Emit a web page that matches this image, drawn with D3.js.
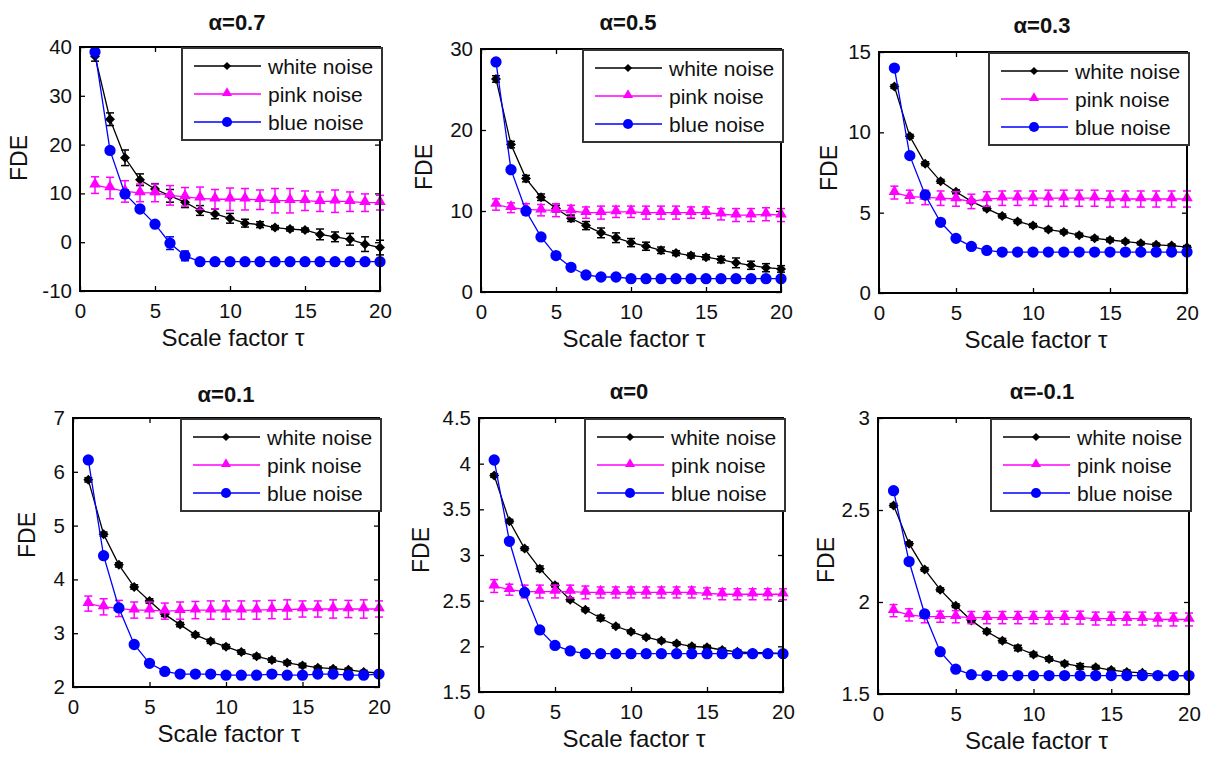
<!DOCTYPE html>
<html><head><meta charset="utf-8">
<script src="https://cdn.jsdelivr.net/npm/d3@7"></script>
<style>
body{margin:0;background:#fff}
svg{display:block;font-family:"Liberation Sans",Arial,sans-serif}
</style>
</head><body>
<svg id="chart" width="1212" height="758"></svg>
<script>
// ---------- data ----------
const tau = [1,2,3,4,5,6,7,8,9,10,11,12,13,14,15,16,17,18,19,20];
const seriesNames = ["white noise","pink noise","blue noise"];
const panelTitles = ["α=0.7","α=0.5","α=0.3","α=0.1","α=0","α=-0.1"];
const xTickValues = [0,5,10,15,20];
const yTickValues = [
  [-10,0,10,20,30,40],
  [0,10,20,30],
  [0,5,10,15],
  [2,3,4,5,6,7],
  [1.5,2,2.5,3,3.5,4,4.5],
  [1.5,2,2.5,3]
];
const xLabel = "Scale factor τ";
const yLabel = "FDE";

// alpha = 0.7
const white07 = [38.1,25.2,17.3,12.8,10.9,9.5,8.2,6.5,5.8,4.9,3.9,3.6,3.0,2.7,2.5,1.6,1.1,0.6,-0.4,-1.1];
const whiteErr07 = [1.0,1.3,1.6,1.2,1.1,1.3,1.1,1.0,1.0,1.0,0.8,0.6,0.4,0.4,0.4,1.1,1.0,1.2,1.5,1.5];
const pink07 = [11.7,11.1,10.4,10.1,10.1,9.6,9.3,9.0,8.8,8.8,8.8,8.7,8.5,8.5,8.5,8.3,8.4,8.3,8.1,8.1];
const pinkErr07 = [1.7,2.2,2.2,1.8,1.8,2.0,1.9,2.3,2.0,2.3,2.2,2.0,2.5,2.5,2.0,2.0,2.3,2.0,1.8,1.5];
const blue07 = [39.0,18.8,9.9,6.8,3.7,-0.2,-2.8,-4.0,-4.0,-4.0,-4.0,-4.0,-4.0,-4.0,-4.0,-4.0,-4.0,-4.0,-4.0,-4.0];
const blueErr07 = [0.6,0.6,0.8,0.4,0.4,1.3,1.0,0.2,0.2,0.2,0.2,0.2,0.2,0.2,0.2,0.2,0.2,0.2,0.2,0.2];

// alpha = 0.5
const white05 = [26.3,18.2,14.0,11.7,10.3,9.1,8.2,7.3,6.7,6.1,5.65,5.15,4.8,4.5,4.3,4.0,3.6,3.3,3.0,2.85];
const whiteErr05 = [0.4,0.4,0.4,0.4,0.4,0.4,0.5,0.6,0.6,0.5,0.5,0.4,0.3,0.3,0.3,0.4,0.6,0.5,0.5,0.4];
const pink05 = [10.8,10.4,10.2,10.1,10.1,10.0,9.8,9.8,9.9,9.9,9.8,9.8,9.8,9.8,9.8,9.6,9.5,9.5,9.6,9.5];
const pinkErr05 = [0.7,0.6,0.7,0.7,0.8,0.7,0.7,0.8,0.7,0.7,0.8,0.8,0.8,0.7,0.7,0.7,0.8,0.8,0.8,0.8];
const blue05 = [28.4,15.1,10.0,6.8,4.5,3.05,2.1,1.85,1.85,1.65,1.65,1.65,1.65,1.65,1.65,1.65,1.65,1.65,1.65,1.65];
const blueErr05 = [0.2,0.2,0.2,0.2,0.2,0.2,0.2,0.1,0.1,0.1,0.1,0.1,0.1,0.1,0.1,0.1,0.1,0.1,0.1,0.1];

// alpha = 0.3
const white03 = [12.85,9.75,8.05,6.95,6.3,5.7,5.25,4.8,4.45,4.2,3.95,3.8,3.6,3.4,3.3,3.2,3.1,3.0,2.95,2.85];
const whiteErr03 = [0.12,0.12,0.12,0.12,0.12,0.12,0.12,0.12,0.12,0.12,0.12,0.12,0.12,0.12,0.12,0.1,0.1,0.1,0.1,0.1];
const pink03 = [6.25,6.0,5.95,5.9,5.85,5.7,5.85,5.9,5.9,5.9,5.9,5.9,5.9,5.9,5.85,5.85,5.85,5.85,5.85,5.85];
const pinkErr03 = [0.4,0.4,0.45,0.45,0.45,0.45,0.45,0.45,0.45,0.45,0.5,0.5,0.5,0.5,0.5,0.5,0.5,0.5,0.5,0.5];
const blue03 = [14.0,8.55,6.1,4.4,3.4,2.9,2.65,2.55,2.55,2.55,2.55,2.55,2.55,2.55,2.55,2.55,2.55,2.55,2.55,2.55];
const blueErr03 = [0.05,0.05,0.05,0.05,0.05,0.05,0.05,0.05,0.05,0.05,0.05,0.05,0.05,0.05,0.05,0.05,0.05,0.05,0.05,0.05];

// alpha = 0.1
const white01 = [5.85,4.84,4.27,3.86,3.6,3.35,3.16,2.97,2.85,2.75,2.65,2.57,2.5,2.45,2.4,2.36,2.34,2.32,2.28,2.26];
const whiteErr01 = [0.04,0.04,0.04,0.04,0.04,0.04,0.04,0.04,0.04,0.04,0.04,0.04,0.04,0.04,0.04,0.03,0.03,0.03,0.03,0.03];
const pink01 = [3.55,3.49,3.46,3.43,3.43,3.41,3.42,3.43,3.43,3.43,3.43,3.43,3.44,3.44,3.45,3.45,3.45,3.45,3.45,3.45];
const pinkErr01 = [0.14,0.15,0.15,0.15,0.15,0.15,0.16,0.16,0.17,0.17,0.17,0.17,0.17,0.18,0.15,0.15,0.17,0.16,0.17,0.15];
const blue01 = [6.22,4.44,3.47,2.79,2.44,2.29,2.24,2.24,2.24,2.22,2.22,2.22,2.24,2.22,2.22,2.24,2.24,2.22,2.22,2.24];
const blueErr01 = [0.02,0.02,0.02,0.02,0.02,0.02,0.02,0.02,0.02,0.02,0.02,0.02,0.02,0.02,0.02,0.02,0.02,0.02,0.02,0.02];

// alpha = 0
const white00 = [3.87,3.37,3.07,2.85,2.67,2.51,2.40,2.31,2.22,2.16,2.10,2.06,2.03,2.0,1.99,1.96,1.94,1.93,1.93,1.92];
const whiteErr00 = [0.02,0.02,0.02,0.03,0.02,0.02,0.02,0.03,0.02,0.02,0.02,0.02,0.02,0.02,0.02,0.02,0.02,0.02,0.02,0.02];
const pink00 = [2.66,2.62,2.60,2.60,2.60,2.60,2.59,2.59,2.59,2.59,2.59,2.59,2.59,2.59,2.58,2.57,2.57,2.57,2.57,2.57];
const pinkErr00 = [0.07,0.06,0.07,0.07,0.07,0.07,0.07,0.06,0.06,0.06,0.06,0.06,0.06,0.06,0.06,0.06,0.06,0.06,0.06,0.06];
const blue00 = [4.04,3.15,2.59,2.18,2.01,1.95,1.92,1.92,1.92,1.92,1.92,1.92,1.92,1.92,1.92,1.92,1.92,1.92,1.92,1.92];
const blueErr00 = [0.01,0.01,0.01,0.01,0.01,0.01,0.01,0.01,0.01,0.01,0.01,0.01,0.01,0.01,0.01,0.01,0.01,0.01,0.01,0.01];

// alpha = -0.1
const whiteM01 = [2.525,2.317,2.177,2.067,1.98,1.90,1.84,1.79,1.75,1.715,1.69,1.665,1.65,1.645,1.63,1.62,1.615,1.605,1.60,1.60];
const whiteErrM01 = [0.01,0.01,0.01,0.01,0.01,0.01,0.012,0.012,0.015,0.012,0.012,0.012,0.015,0.01,0.01,0.01,0.01,0.01,0.01,0.01];
const pinkM01 = [1.953,1.93,1.92,1.92,1.92,1.915,1.915,1.915,1.915,1.915,1.915,1.915,1.915,1.91,1.91,1.91,1.91,1.905,1.905,1.905];
const pinkErrM01 = [0.033,0.033,0.033,0.03,0.033,0.033,0.033,0.033,0.033,0.033,0.035,0.035,0.035,0.035,0.035,0.035,0.035,0.035,0.035,0.035];
const blueM01 = [2.605,2.22,1.935,1.73,1.635,1.605,1.60,1.60,1.60,1.60,1.60,1.60,1.60,1.60,1.60,1.60,1.60,1.60,1.60,1.60];
const blueErrM01 = [0.005,0.005,0.005,0.005,0.005,0.005,0.005,0.005,0.005,0.005,0.005,0.005,0.005,0.005,0.005,0.005,0.005,0.005,0.005,0.005];

const whiteSets = [white07, white05, white03, white01, white00, whiteM01];
const whiteErrSets = [whiteErr07, whiteErr05, whiteErr03, whiteErr01, whiteErr00, whiteErrM01];
const pinkSets = [pink07, pink05, pink03, pink01, pink00, pinkM01];
const pinkErrSets = [pinkErr07, pinkErr05, pinkErr03, pinkErr01, pinkErr00, pinkErrM01];
const blueSets = [blue07, blue05, blue03, blue01, blue00, blueM01];
const blueErrSets = [blueErr07, blueErr05, blueErr03, blueErr01, blueErr00, blueErrM01];

// ---------- layout (pixels) ----------
const layout = [
  {left:80,  right:380,  top:47,  bottom:291, titleX:237,  titleY:30,  ylabX:19,  ylabY:158},
  {left:481, right:781,  top:49,  bottom:292, titleX:628,  titleY:30,  ylabX:424, ylabY:167},
  {left:879, right:1187, top:52,  bottom:293, titleX:1042, titleY:33,  ylabX:829, ylabY:168},
  {left:73,  right:379,  top:418, bottom:687, titleX:226,  titleY:402, ylabX:27,  ylabY:535},
  {left:479, right:783,  top:418, bottom:692, titleX:629,  titleY:399, ylabX:421, ylabY:550},
  {left:878, right:1189, top:418, bottom:694, titleX:1042, titleY:399, ylabX:826, ylabY:560}
];
const colors = ["#000000","#ff00ff","#0000ff"];
const symbols = [d3.symbolSquare, d3.symbolTriangle, d3.symbolCircle];
const symRot = [45, 0, 0];
const symSizes = [50, 58, 100];
const legendSymSizes = [34, 44, 80];

const svg = d3.select("#chart");
const fmt = d => String(d);

layout.forEach((L, i) => {
  const yVals = yTickValues[i];
  const x = d3.scaleLinear().domain([0,20]).range([L.left, L.right]);
  const y = d3.scaleLinear().domain([d3.min(yVals), d3.max(yVals)]).range([L.bottom, L.top]);
  const g = svg.append("g");

  // axes (inward ticks)
  const gx = g.append("g").attr("transform", `translate(0,${L.bottom})`)
    .call(d3.axisBottom(x).tickValues(xTickValues).tickFormat(fmt).tickSizeInner(-5).tickSizeOuter(0).tickPadding(12));
  const gy = g.append("g").attr("transform", `translate(${L.left},0)`)
    .call(d3.axisLeft(y).tickValues(yVals).tickFormat(fmt).tickSizeInner(-5).tickSizeOuter(0).tickPadding(8));
  const gt = g.append("g").attr("transform", `translate(0,${L.top})`)
    .call(d3.axisTop(x).tickValues(xTickValues).tickFormat("").tickSizeInner(-5).tickSizeOuter(0));
  const gr = g.append("g").attr("transform", `translate(${L.right},0)`)
    .call(d3.axisRight(y).tickValues(yVals).tickFormat("").tickSizeInner(-5).tickSizeOuter(0));
  [gx, gy, gt, gr].forEach(a => {
    a.select(".domain").remove();
    a.selectAll(".tick line").attr("stroke", "#000").attr("stroke-width", 1.3);
    a.selectAll(".tick text").attr("font-size", 20.5).attr("fill", "#111")
      .attr("font-family", '"Liberation Sans",Arial,sans-serif');
  });

  // series
  const sets = [
    [whiteSets[i], whiteErrSets[i]],
    [pinkSets[i], pinkErrSets[i]],
    [blueSets[i], blueErrSets[i]]
  ];
  sets.forEach(([vals, errs], s) => {
    const pts = tau.map((t, k) => ({t, v: vals[k], e: errs[k]}));
    const sg = g.append("g");
    sg.append("path").datum(pts)
      .attr("fill", "none").attr("stroke", colors[s]).attr("stroke-width", 1.3)
      .attr("d", d3.line().x(d => x(d.t)).y(d => y(d.v)));
    const eb = sg.selectAll(".eb").data(pts).join("g").attr("stroke", colors[s]).attr("stroke-width", 1.5);
    eb.append("line").attr("x1", d => x(d.t)).attr("x2", d => x(d.t))
      .attr("y1", d => y(d.v - d.e)).attr("y2", d => y(d.v + d.e));
    eb.append("line").attr("x1", d => x(d.t) - 4).attr("x2", d => x(d.t) + 4)
      .attr("y1", d => y(d.v - d.e)).attr("y2", d => y(d.v - d.e));
    eb.append("line").attr("x1", d => x(d.t) - 4).attr("x2", d => x(d.t) + 4)
      .attr("y1", d => y(d.v + d.e)).attr("y2", d => y(d.v + d.e));
    sg.selectAll(".mk").data(pts).join("path")
      .attr("transform", d => `translate(${x(d.t)},${y(d.v) + (s === 1 ? -1 : 0)}) rotate(${symRot[s]})`)
      .attr("d", d3.symbol().type(symbols[s]).size(symSizes[s]))
      .attr("fill", colors[s]);
  });

  // frame
  g.append("rect").attr("x", L.left).attr("y", L.top)
    .attr("width", L.right - L.left).attr("height", L.bottom - L.top)
    .attr("fill", "none").attr("stroke", "#000").attr("stroke-width", 2);

  // legend
  const lw = 200, lh = 92;
  const lx = L.right + 2 - lw, ly = L.top + 1;
  const lg = g.append("g").attr("transform", `translate(${lx},${ly})`);
  lg.append("rect").attr("width", lw).attr("height", lh)
    .attr("fill", "#fff").attr("stroke", "#333").attr("stroke-width", 2);
  seriesNames.forEach((name, s) => {
    const ry = 18 + s * 28;
    lg.append("line").attr("x1", 12).attr("x2", 79).attr("y1", ry).attr("y2", ry)
      .attr("stroke", colors[s]).attr("stroke-width", 1.3);
    lg.append("path").attr("transform", `translate(45,${ry + (s === 1 ? -1 : 0)}) rotate(${symRot[s]})`)
      .attr("d", d3.symbol().type(symbols[s]).size(legendSymSizes[s]))
      .attr("fill", colors[s]);
    lg.append("text").attr("x", 86).attr("y", ry + 7.5)
      .attr("font-size", 21).attr("fill", "#111").text(name);
  });

  // titles and labels
  g.append("text").attr("x", L.titleX).attr("y", L.titleY).attr("text-anchor", "middle")
    .attr("font-size", 22).attr("font-weight", "bold").attr("fill", "#111").text(panelTitles[i]);
  g.append("text").attr("x", (L.left + L.right) / 2 + 3).attr("y", L.bottom + 55).attr("text-anchor", "middle")
    .attr("font-size", 24).attr("fill", "#111").text(xLabel);
  g.append("text").attr("transform", `translate(${L.ylabX + 8},${L.ylabY}) rotate(-90)`)
    .attr("text-anchor", "middle").attr("font-size", 23).attr("fill", "#111").text(yLabel);
});
</script>
</body></html>
